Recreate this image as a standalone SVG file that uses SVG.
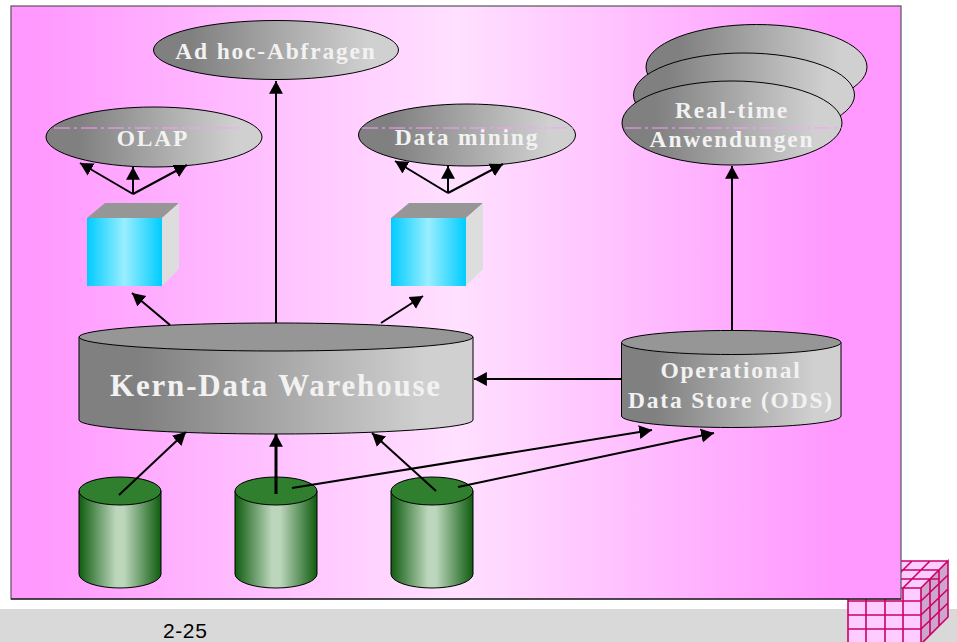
<svg xmlns="http://www.w3.org/2000/svg" width="957" height="642" viewBox="0 0 957 642">
<style>
.s{stroke:#000;stroke-width:1}
.gr{fill:url(#g)}
.top{fill:#969696}
.gn{fill:url(#gg)}
.gtop{fill:#2f7f2f}
.t{font-family:"Liberation Serif","Times New Roman",serif;font-weight:bold;fill:#f2f2f2;text-anchor:middle;letter-spacing:1.8px}
.d{stroke:#ff99ff;stroke-width:1;stroke-dasharray:16 4 3 4;fill:none}
.c{stroke:#000;stroke-width:2;fill:none;marker-end:url(#a)}
.m{stroke:#cc0066;stroke-width:1.6;fill:none}
</style>
<defs>
<linearGradient id="bg" x1="0" x2="1" y1="0" y2="0"><stop offset="0.03" stop-color="#ff99ff"/><stop offset="0.25" stop-color="#ffbbff"/><stop offset="0.5" stop-color="#ffe0ff"/><stop offset="0.72" stop-color="#ffbbff"/><stop offset="0.92" stop-color="#ff99ff"/></linearGradient>
<linearGradient id="g" x1="0" x2="1" y1="0" y2="0"><stop offset="0.15" stop-color="#808080"/><stop offset="0.88" stop-color="#d0d0d0"/></linearGradient>
<linearGradient id="gg" x1="0" x2="1" y1="0" y2="0"><stop offset="0" stop-color="#0f5c0f"/><stop offset="0.45" stop-color="#bcd6bc"/><stop offset="0.55" stop-color="#bcd6bc"/><stop offset="1" stop-color="#0f5c0f"/></linearGradient>
<linearGradient id="b" x1="0" x2="1" y1="0" y2="0"><stop offset="0" stop-color="#00ccff"/><stop offset="0.5" stop-color="#99eeff"/><stop offset="1" stop-color="#00ccff"/></linearGradient>
<marker id="a" markerUnits="userSpaceOnUse" markerWidth="15" markerHeight="15" viewBox="0 0 14 14" refX="12" refY="7" orient="auto"><path d="M0 0.500 L12 7 L0 13.500 Z" fill="#000"/></marker>
</defs>
<g id="footer"><rect x="0" y="609" width="957" height="33" fill="#d9d9d9"/><text x="163" y="637.500" font-family="'Liberation Sans',Arial,sans-serif" font-size="21" letter-spacing="0.6" fill="#000">2-25</text></g>
<g id="logo">
<path d="M848 588H921V642H848Z" fill="#ffccff"/><path d="M921 588L948 561V617L921 644Z" fill="#cca6cc"/><path d="M848 588L875 561H948L921 588Z" fill="#ffccff"/>
<path class="m" d="M848 588V642M866 588V642M885 588V642M903 588V642M921 588V642M848 588H921M848 601H921M848 615H921M848 629H921M921 588L948 561V617L921 644M930 579V635M939 570V626M921 601L948 575M921 615L948 589M921 629L948 603M848 588L875 561H948M866 579H939M884 570H939M866 588L893 561M885 588L912 561M903 588L930 561"/>
</g>
<g id="panel"><rect x="11" y="6" width="890" height="593" fill="url(#bg)" stroke="#555" stroke-width="1.2"/><path d="M11 599H901" stroke="#000" stroke-width="1.2"/></g>
<g id="adhoc"><ellipse class="s gr" cx="276" cy="50" rx="122.5" ry="29.5"/><text class="t" x="276" y="59" font-size="23.500">Ad hoc-Abfragen</text></g>
<g id="olap"><ellipse class="s gr" cx="154" cy="137" rx="108" ry="30"/><path class="d" d="M54 128H242"/><text class="t" x="153" y="146" font-size="23.500">OLAP</text></g>
<g id="datamining"><ellipse class="s gr" cx="467" cy="135" rx="108.500" ry="31"/><path class="d" d="M362 128H575"/><text class="t" x="467" y="145" font-size="23.500">Data mining</text></g>
<g id="realtime">
<ellipse class="s gr" cx="756.500" cy="67" rx="110.500" ry="42.500"/><ellipse class="s gr" cx="744" cy="95" rx="110.500" ry="42"/><ellipse class="s gr" cx="732" cy="123" rx="110" ry="42"/>
<path class="d" d="M625 128H842"/><text class="t" x="732" y="118" font-size="23.500">Real-time</text><text class="t" x="732" y="147" font-size="23.500">Anwendungen</text></g>
<g id="cube1"><path d="M87 218L105 203H179L162 218Z" class="top"/><path d="M162 218L179 203V269L162 286Z" fill="#dddddd"/><rect x="87" y="218" width="75" height="68" fill="url(#b)"/></g>
<g id="cube2"><path d="M391 218L409 203H483L466 218Z" class="top"/><path d="M466 218L483 203V269L466 286Z" fill="#dddddd"/><rect x="391" y="218" width="75" height="68" fill="url(#b)"/></g>
<g id="kern"><path class="s gr" d="M79 337V420A197 14 0 0 0 473 420V337Z"/><ellipse class="s top" cx="276" cy="337" rx="197" ry="14"/><text class="t" x="276" y="396" font-size="31">Kern-Data Warehouse</text></g>
<g id="ods"><path class="s gr" d="M621.500 342.500V416A109.750 11.500 0 0 0 841 416V342.500Z"/><ellipse class="s top" cx="731.250" cy="342.500" rx="109.750" ry="12"/><text class="t" x="731" y="378" font-size="23.500">Operational</text><text class="t" x="731" y="408" font-size="23.500">Data Store (ODS)</text></g>
<g id="src1"><path class="s gn" d="M79 491V574A41 14 0 0 0 161 574V491Z"/><ellipse class="s gtop" cx="120" cy="491" rx="41" ry="14"/></g>
<g id="src2"><path class="s gn" d="M235 491V574A41 14 0 0 0 317 574V491Z"/><ellipse class="s gtop" cx="276" cy="491" rx="41" ry="14"/></g>
<g id="src3"><path class="s gn" d="M391 491V574A41 14 0 0 0 473 574V491Z"/><ellipse class="s gtop" cx="432" cy="491" rx="41" ry="14"/></g>
<g id="connectors">
<path class="c" d="M276 323V81"/>
<path class="c" d="M133 194L80 163"/><path class="c" d="M133 194V167"/><path class="c" d="M133 194L187 165"/>
<path class="c" d="M448 193L395 161"/><path class="c" d="M448 193V166"/><path class="c" d="M448 193L503 164"/>
<path class="c" d="M170 325L132 293"/><path class="c" d="M381 323L423 296"/>
<path class="c" d="M732 330V166"/><path class="c" d="M621 379H474"/>
<path class="c" d="M119 495L186 432"/><path class="c" d="M276 494V434" style="stroke-width:3"/><path class="c" d="M436 491L372 433"/>
<path class="c" d="M292 488L652 430"/><path class="c" d="M458 487L714 433"/>
</g>
</svg>
